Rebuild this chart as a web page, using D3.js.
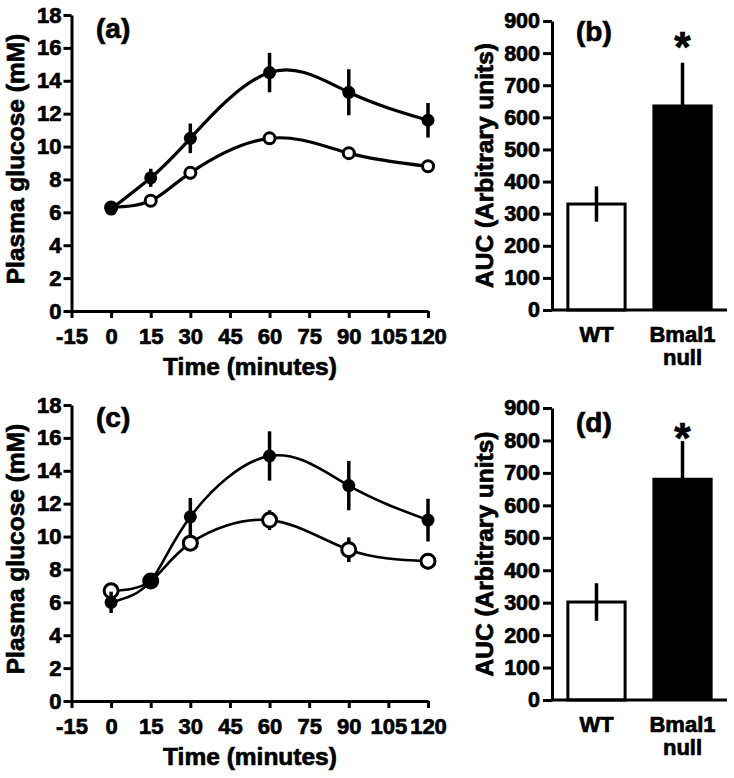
<!DOCTYPE html>
<html>
<head>
<meta charset="utf-8">
<script src="https://cdn.jsdelivr.net/npm/d3@7"></script>
<style>
  html, body { margin: 0; padding: 0; background: #fff; }
  svg { display: block; }
  text { font-family: "Liberation Sans", Arial, sans-serif; font-weight: bold; fill: #000; stroke: #000; stroke-width: 0.7px; }
</style>
</head>
<body>
<svg id="chart" width="734" height="778"></svg>
<script>
// ---------- data ----------
const times = [0, 15, 30, 60, 90, 120];
const xTickValues = [-15, 0, 15, 30, 45, 60, 75, 90, 105, 120];
const glucoseTicks = [0, 2, 4, 6, 8, 10, 12, 14, 16, 18];
const aucTicks = [0, 100, 200, 300, 400, 500, 600, 700, 800, 900];

// panel (a)
const aWT = [6.3, 6.7, 8.4, 10.5, 9.6, 8.8];
const aWTerr = [0.2, 0.25, 0.4, 0.2, 0.35, 0.25];
const aKO = [6.2, 8.1, 10.5, 14.5, 13.3, 11.6];
const aKOerr = [0.2, 0.55, 0.9, 1.2, 1.4, 1.05];
// panel (c)
const cWT = [6.7, 7.3, 9.6, 11.0, 9.2, 8.5];
const cWTerr = [0.3, 0.3, 0.4, 0.6, 0.75, 0.5];
const cKO = [6.0, 7.3, 11.2, 14.9, 13.1, 11.0];
const cKOerr = [0.65, 0.3, 1.15, 1.5, 1.5, 1.3];
// panels (b), (d)
const groups = ["WT", "Bmal1 null"];
const bAUC = [330, 640];
const bErr = [55, 130];
const dAUC = [302, 685];
const dErr = [58, 113];
const panelLabels = ["(a)", "(b)", "(c)", "(d)"];

const svg = d3.select("#chart");

function styleAxis(g, sw, fs) {
  g.selectAll("path.domain").attr("stroke", "#000").attr("stroke-width", sw);
  g.selectAll(".tick line").attr("stroke", "#000").attr("stroke-width", sw);
  g.selectAll(".tick text").attr("font-size", fs).attr("fill", "#000")
    .attr("font-family", "'Liberation Sans', Arial, sans-serif");
}

function linePanel(opt) {
  const x = d3.scaleLinear().domain([-15, 120]).range([71.5, 428]);
  const y = d3.scaleLinear().domain([0, 18]).range([opt.bottom, opt.top]);
  const g = svg.append("g");

  const gx = g.append("g").attr("transform", `translate(0,${opt.bottom})`)
    .call(d3.axisBottom(x).tickValues(xTickValues).tickSize(7).tickSizeOuter(0).tickPadding(10).tickFormat(d => String(d)));
  styleAxis(gx, 3, 22);

  const gy = g.append("g").attr("transform", `translate(71.5,0)`)
    .call(d3.axisLeft(y).tickValues(glucoseTicks).tickSize(8).tickSizeOuter(0).tickPadding(2));
  styleAxis(gy, 3, 22);

  const series = [
    { vals: opt.wt, err: opt.wtErr, filled: false },
    { vals: opt.ko, err: opt.koErr, filled: true }
  ];
  const line = d3.line().x(d => x(d[0])).y(d => y(d[1])).curve(d3.curveNatural);
  series.forEach(s => {
    const pts = times.map((t, i) => [t, s.vals[i], s.err[i]]);
    g.append("path").datum(pts).attr("d", line)
      .attr("fill", "none").attr("stroke", "#000").attr("stroke-width", opt.lw);
    g.selectAll(null).data(pts).enter().append("line")
      .attr("x1", d => x(d[0])).attr("x2", d => x(d[0]))
      .attr("y1", d => y(d[1] - d[2])).attr("y2", d => y(d[1] + d[2]))
      .attr("stroke", "#000").attr("stroke-width", 3.5);
    g.selectAll(null).data(pts).enter().append("circle")
      .attr("cx", d => x(d[0])).attr("cy", d => y(d[1]))
      .attr("r", s.filled ? opt.rFilled : opt.rOpen)
      .attr("fill", s.filled ? "#000" : "#fff")
      .attr("stroke", "#000").attr("stroke-width", s.filled ? 0 : 3);
  });

  g.append("text").attr("x", 96).attr("y", opt.labelY).attr("font-size", 28).text(opt.label);
  g.append("text").attr("font-size", 24.5).attr("text-anchor", "middle")
    .attr("transform", `translate(24,${(opt.top + opt.bottom) / 2 - 4}) rotate(-90)`)
    .text("Plasma glucose (mM)");
  g.append("text").attr("font-size", 24.5).attr("text-anchor", "middle")
    .attr("x", 250).attr("y", opt.bottom + 64).text("Time (minutes)");
}

function barPanel(opt) {
  const x = d3.scaleBand().domain(groups).range([552, 727]).paddingInner(0.3).paddingOuter(0.167);
  const y = d3.scaleLinear().domain([0, 900]).range([opt.bottom, opt.top]);
  const g = svg.append("g");

  const vals = groups.map((k, i) => ({ k, v: opt.vals[i], e: opt.err[i], i }));
  g.selectAll(null).data(vals).enter().append("rect")
    .attr("x", d => x(d.k) + (d.i === 0 ? 1.5 : 0))
    .attr("width", d => x.bandwidth() - (d.i === 0 ? 3 : 0))
    .attr("y", d => y(d.v))
    .attr("height", d => y(0) - y(d.v))
    .attr("fill", d => d.i === 0 ? "#fff" : "#000")
    .attr("stroke", "#000").attr("stroke-width", d => d.i === 0 ? 3 : 0);
  g.selectAll(null).data(vals).enter().append("line")
    .attr("x1", d => x(d.k) + x.bandwidth() / 2).attr("x2", d => x(d.k) + x.bandwidth() / 2)
    .attr("y1", d => y(d.v - d.e)).attr("y2", d => y(d.v + d.e))
    .attr("stroke", "#000").attr("stroke-width", 3.5);

  const gx = g.append("g").attr("transform", `translate(0,${opt.bottom})`)
    .call(d3.axisBottom(x).tickSize(0).tickSizeOuter(0).tickFormat(""));
  gx.selectAll("path.domain").attr("stroke", "#000").attr("stroke-width", 3);
  gx.select("path.domain").attr("d", `M552,0H727`);

  const gy = g.append("g").attr("transform", `translate(552,0)`)
    .call(d3.axisLeft(y).tickValues(aucTicks).tickSize(9).tickSizeOuter(0).tickPadding(3));
  styleAxis(gy, 3, 21.5);

  // category labels
  groups.forEach((k, i) => {
    const parts = k.split(" ");
    const t = g.append("text").attr("font-size", 22).attr("text-anchor", "middle")
      .attr("x", x(k) + x.bandwidth() / 2).attr("y", opt.bottom + 32);
    parts.forEach((p, j) => {
      t.append("tspan").attr("x", x(k) + x.bandwidth() / 2).attr("dy", j === 0 ? 0 : 23).text(p);
    });
  });

  // significance star
  g.append("text").attr("font-size", 42).attr("text-anchor", "middle")
    .attr("x", x(groups[1]) + x.bandwidth() / 2).attr("y", opt.starY).text("*");

  g.append("text").attr("x", 576).attr("y", opt.labelY).attr("font-size", 28).text(opt.label);
  g.append("text").attr("font-size", 24.5).attr("text-anchor", "middle")
    .attr("transform", `translate(493,${(opt.top + opt.bottom) / 2}) rotate(-90)`)
    .text("AUC (Arbitrary units)");
}

linePanel({ top: 15, bottom: 311, wt: aWT, wtErr: aWTerr, ko: aKO, koErr: aKOerr,
  lw: 3.2, rOpen: 5.5, rFilled: 6.5, label: panelLabels[0], labelY: 38 });
barPanel({ top: 21, bottom: 310, vals: bAUC, err: bErr, label: panelLabels[1], labelY: 41, starY: 61 });
linePanel({ top: 405, bottom: 701, wt: cWT, wtErr: cWTerr, ko: cKO, koErr: cKOerr,
  lw: 2.6, rOpen: 7, rFilled: 6.5, label: panelLabels[2], labelY: 427 });
barPanel({ top: 408, bottom: 700, vals: dAUC, err: dErr, label: panelLabels[3], labelY: 432, starY: 452 });
</script>
</body>
</html>
